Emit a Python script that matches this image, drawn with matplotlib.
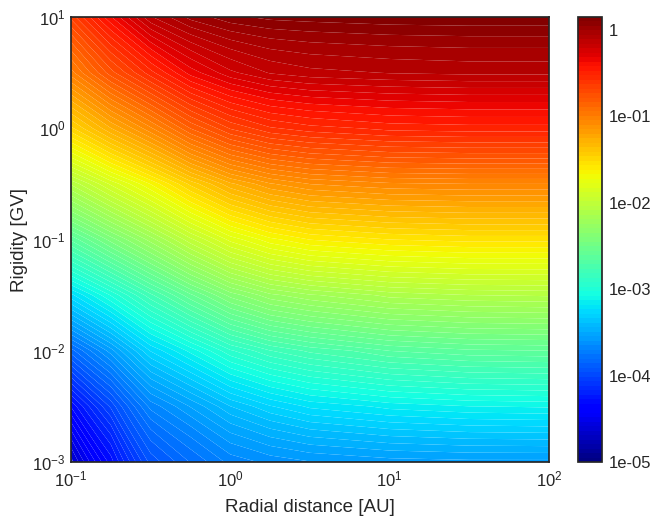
import numpy as np
import matplotlib
matplotlib.use("Agg")
import matplotlib.pyplot as plt
from matplotlib.colors import LogNorm

# === grid: log10 of radial distance [AU] and rigidity [GV] ===
log_r = np.array([-1.0, -0.75, -0.5, -0.25, 0.0, 0.25, 0.5, 1.0, 1.5, 2.0])
log_P = np.array([1.0, 0.5, 0.0, -0.5, -1.0, -1.5, -2.0, -2.5, -3.0])

# log10 of the plotted quantity, one list per radial distance (top -> bottom in P)
f_r0p10 = [-0.67, -1.02, -1.48, -2.08, -2.65, -3.25, -3.83, -4.32, -4.66]
f_r0p18 = [-0.38, -0.76, -1.26, -1.87, -2.43, -3.02, -3.57, -4.00, -4.30]
f_r0p32 = [-0.12, -0.55, -1.06, -1.67, -2.22, -2.78, -3.28, -3.68, -3.94]
f_r0p56 = [0.01, -0.35, -0.84, -1.45, -2.00, -2.57, -3.11, -3.54, -3.80]
f_r1p0 = [0.08, -0.23, -0.68, -1.27, -1.81, -2.38, -2.93, -3.39, -3.68]
f_r1p8 = [0.11, -0.16, -0.59, -1.16, -1.69, -2.26, -2.82, -3.29, -3.63]
f_r3p2 = [0.12, -0.13, -0.55, -1.10, -1.62, -2.20, -2.75, -3.22, -3.60]
f_r10 = [0.135, -0.11, -0.51, -1.06, -1.57, -2.12, -2.66, -3.16, -3.57]
f_r32 = [0.14, -0.10, -0.50, -1.05, -1.55, -2.09, -2.62, -3.13, -3.56]
f_r100 = [0.14, -0.10, -0.50, -1.05, -1.55, -2.08, -2.61, -3.12, -3.56]

cb_ticks = [1e-5, 1e-4, 1e-3, 1e-2, 1e-1, 1]
cb_labels = ["1e-05", "1e-04", "1e-03", "1e-02", "1e-01", "1"]

# === style (seaborn "white" look) ===
plt.rcParams.update({
    "font.family": "Liberation Sans",
    "mathtext.fontset": "custom",
    "mathtext.rm": "Liberation Sans",
    "mathtext.it": "Liberation Sans:italic",
    "mathtext.bf": "Liberation Sans:bold",
    "axes.edgecolor": ".15",
    "axes.linewidth": 1.25,
    "text.color": ".15",
    "axes.labelcolor": ".15",
    "xtick.color": ".15",
    "ytick.color": ".15",
    "xtick.major.size": 0, "ytick.major.size": 0,
    "xtick.minor.size": 0, "ytick.minor.size": 0,
    "xtick.major.pad": 5.5, "ytick.major.pad": 4,
})

R, P = np.meshgrid(10 ** log_r, 10 ** log_P)
F = 10 ** np.column_stack([f_r0p10, f_r0p18, f_r0p32, f_r0p56, f_r1p0,
                           f_r1p8, f_r3p2, f_r10, f_r32, f_r100])

levels = np.logspace(-5, 0.145, 100)

fig = plt.figure(figsize=(6.52, 5.19), dpi=100)
ax = fig.add_axes([71 / 652, 57 / 519, 478 / 652, 445 / 519])
cax = fig.add_axes([578 / 652, 57 / 519, 24 / 652, 445 / 519])

cs = ax.contourf(R, P, F, levels=levels, cmap="jet",
                 norm=LogNorm(vmin=levels[0], vmax=levels[-1]), antialiased=True)
ax.set_xscale("log")
ax.set_yscale("log")
ax.set_xlim(0.1, 100)
ax.set_ylim(1e-3, 10)
ax.tick_params(labelsize=12)
ax.set_xlabel("Radial distance [AU]", fontsize=13.5, labelpad=7)
ax.set_ylabel("Rigidity [GV]", fontsize=13.5, labelpad=3)

cb = fig.colorbar(cs, cax=cax, ticks=cb_ticks)
cb.ax.minorticks_off()
cb.ax.set_yticklabels(cb_labels)
cb.ax.tick_params(labelsize=12, size=0, pad=5)
cb.outline.set_edgecolor(".15")
cb.outline.set_linewidth(1.25)

fig.savefig("out.png", dpi=100)
